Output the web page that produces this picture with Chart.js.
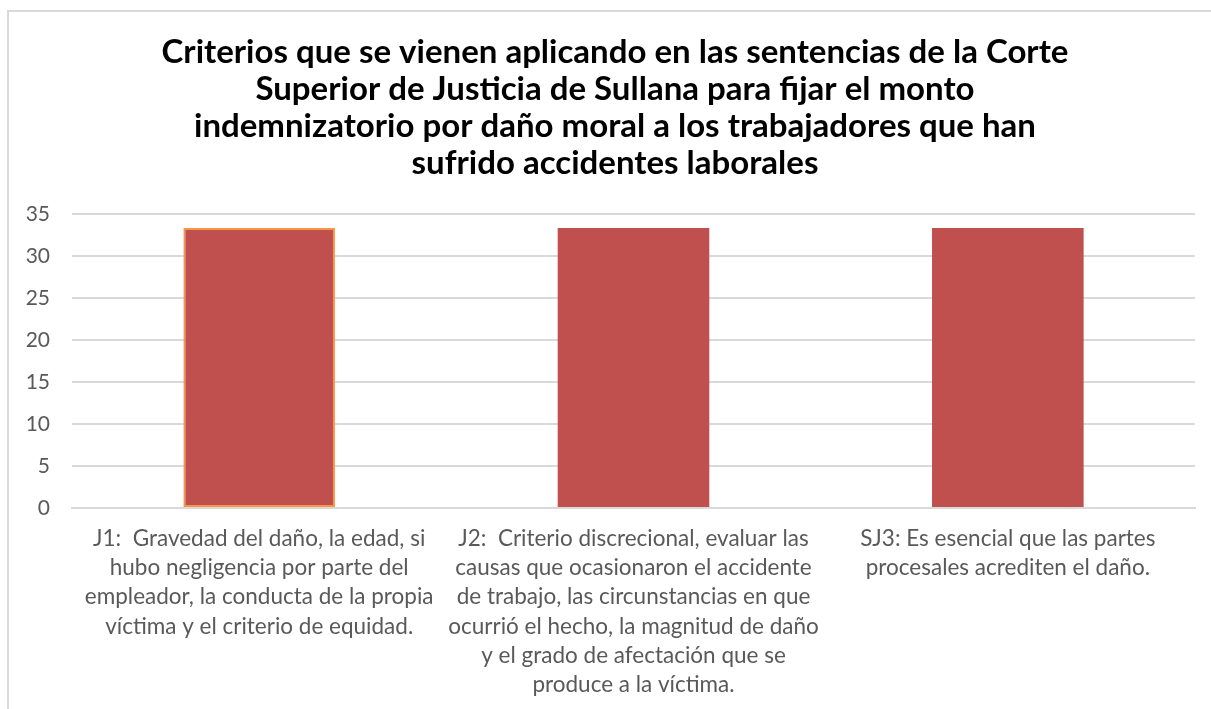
<!DOCTYPE html>
<html>
<head>
<meta charset="utf-8">
<script src="https://cdn.jsdelivr.net/npm/chart.js@4.4.1/dist/chart.umd.min.js"></script>
<style>
  html, body { margin: 0; padding: 0; background: #ffffff; overflow: hidden; }
  body { width: 1211px; height: 709px; position: relative; }
  #frame { position: absolute; left: 7px; top: 10px; width: 1260px; height: 760px; border: 2px solid #d9d9d9; box-sizing: border-box; }
  #wrap { position: absolute; left: 7px; top: 10px; width: 1216px; height: 699px; }
</style>
</head>
<body>
<div id="frame"></div>
<div id="wrap"><canvas id="c"></canvas></div>
<script>
const titleLines = [
  "Criterios que se vienen aplicando en las sentencias de la Corte",
  "Superior de Justicia de Sullana para fijar el monto",
  "indemnizatorio por daño moral a los trabajadores que han",
  "sufrido accidentes laborales"
];
const categories = [
  ["J1:  Gravedad del daño, la edad, si", "hubo negligencia por parte del", "empleador, la conducta de la propia", "víctima y el criterio de equidad."],
  ["J2:  Criterio discrecional, evaluar las", "causas que ocasionaron el accidente", "de trabajo, las circunstancias en que", "ocurrió el hecho, la magnitud de daño", "y el grado de afectación que se", "produce a la víctima."],
  ["SJ3: Es esencial que las partes", "procesales acrediten el daño."]
];
const values = [33.33, 33.33, 33.33];
const yTicks = [0, 5, 10, 15, 20, 25, 30, 35];

const FONT = "Lato, 'Liberation Sans', sans-serif";

new Chart(document.getElementById('c'), {
  type: 'bar',
  data: {
    labels: categories,
    datasets: [{
      data: values,
      backgroundColor: '#C0504D',
      borderColor: ['#F79646', 'rgba(0,0,0,0)', 'rgba(0,0,0,0)'],
      borderWidth: [2, 0, 0],
      borderSkipped: false,
      barPercentage: 0.405,
      categoryPercentage: 1.0
    }]
  },
  options: {
    responsive: true,
    maintainAspectRatio: false,
    animation: false,
    layout: { padding: { left: 28, right: 28, top: 0, bottom: 0 } },
    plugins: {
      legend: { display: false },
      tooltip: { enabled: false },
      title: {
        display: true,
        text: titleLines,
        color: '#000000',
        font: { family: FONT, size: 33, weight: 'bold', lineHeight: 1.12 },
        padding: { top: 24, bottom: 32 }
      }
    },
    scales: {
      x: {
        grid: { display: false, drawTicks: false },
        border: { display: true, color: '#d9d9d9', width: 2, z: -1 },
        ticks: {
          color: '#595959',
          font: { family: FONT, size: 22.5, lineHeight: 1.3 },
          maxRotation: 0, minRotation: 0, autoSkip: false,
          padding: 16
        },
        afterFit: (a) => { a.paddingLeft = 0; a.paddingRight = 0; a.height = 201; }
      },
      y: {
        min: 0, max: 35,
        afterBuildTicks: (axis) => { axis.ticks = yTicks.map(v => ({ value: v })); },
        grid: { color: '#d9d9d9', lineWidth: 2, drawTicks: false },
        border: { display: false },
        ticks: {
          color: '#595959',
          font: { family: FONT, size: 21 },
          padding: 22
        },
        afterFit: (a) => {
          a.width = 37; a.paddingTop = 0; a.paddingBottom = 0;
          a._computeLabelArea = () => undefined;
        }
      }
    }
  }
});
</script>
</body>
</html>
